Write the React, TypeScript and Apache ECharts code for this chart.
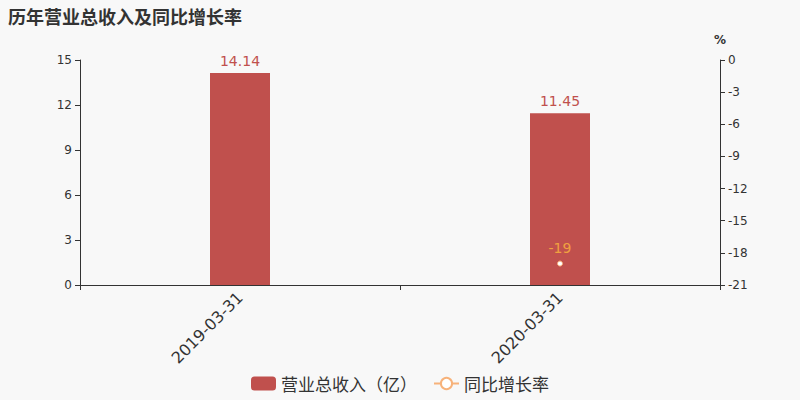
import { useEffect, useRef } from "react";
import * as echarts from "echarts";

const categories = ["2019-03-31", "2020-03-31"];
const revenue = [14.14, 11.45];
const growth: (number | string)[] = ["-", -19];
const leftTicks = { min: 0, max: 15, interval: 3 };
const rightTicks = { min: -21, max: 0, interval: 3 };

const FONT = "DejaVu Sans, Noto Sans CJK SC, sans-serif";
const CJK = "Noto Sans CJK SC, sans-serif";

export default function App() {
  const chartRef = useRef<HTMLDivElement | null>(null);

  useEffect(() => {
    document.body.style.margin = "0";
    if (!chartRef.current) return;
    const chart = echarts.init(chartRef.current, null, { renderer: "svg" });

    chart.setOption({
      animation: false,
      backgroundColor: "#f8f8f8",
      textStyle: { fontFamily: FONT },
      title: {
        text: "历年营业总收入及同比增长率",
        left: 3,
        top: 2,
        textStyle: {
          fontSize: 18,
          fontWeight: "bold",
          color: "#333",
          fontFamily: CJK,
        },
      },
      legend: {
        bottom: 3,
        left: "center",
        itemWidth: 25,
        itemHeight: 14,
        itemGap: 16,
        textStyle: { fontSize: 17, color: "#333", fontFamily: CJK },
        data: [
          { name: "营业总收入（亿）", icon: "roundRect" },
          { name: "同比增长率" },
        ],
      },
      grid: { left: 80, right: 80, top: 60, bottom: 115 },
      xAxis: {
        type: "category",
        data: categories,
        axisLine: { lineStyle: { color: "#333" } },
        axisTick: { show: true, lineStyle: { color: "#333" } },
        axisLabel: { rotate: 45, fontSize: 16, color: "#333", margin: 10 },
      },
      yAxis: [
        {
          type: "value",
          min: leftTicks.min,
          max: leftTicks.max,
          interval: leftTicks.interval,
          axisLine: { show: true, lineStyle: { color: "#333" } },
          axisTick: { show: true, lineStyle: { color: "#333" } },
          axisLabel: { color: "#333", fontSize: 12 },
          splitLine: { show: false },
        },
        {
          type: "value",
          name: "%",
          nameGap: 14,
          nameTextStyle: { color: "#333", fontSize: 12, fontWeight: "bold" },
          min: rightTicks.min,
          max: rightTicks.max,
          interval: rightTicks.interval,
          axisLine: { show: true, lineStyle: { color: "#333" } },
          axisTick: { show: true, lineStyle: { color: "#333" } },
          axisLabel: { color: "#333", fontSize: 12 },
          splitLine: { show: false },
        },
      ],
      series: [
        {
          name: "营业总收入（亿）",
          type: "bar",
          data: revenue,
          barWidth: 60,
          itemStyle: { color: "#c0504d" },
          label: {
            show: true,
            position: "top",
            color: "#c0504d",
            fontSize: 14,
            distance: 5,
          },
        },
        {
          name: "同比增长率",
          type: "line",
          yAxisIndex: 1,
          data: growth,
          symbol: "circle",
          symbolSize: 5,
          lineStyle: { color: "#f7b27a", width: 1 },
          itemStyle: { color: "#fff", borderColor: "#f7b27a", borderWidth: 1 },
          label: {
            show: true,
            position: "top",
            color: "#f0a040",
            fontSize: 14,
            distance: 6,
          },
        },
      ],
    });

    return () => chart.dispose();
  }, []);

  return <div ref={chartRef} style={{ width: 800, height: 400 }} />;
}
